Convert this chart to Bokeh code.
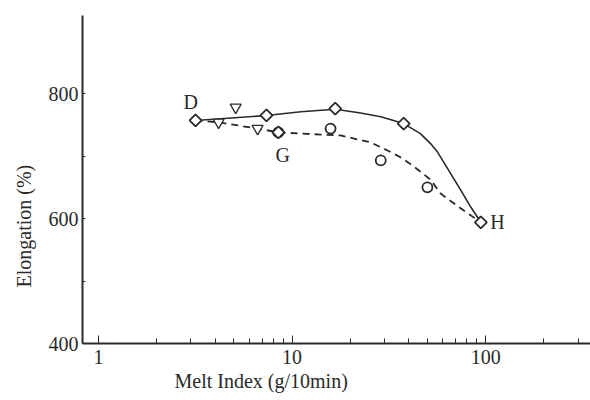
import math
from bokeh.plotting import figure
from bokeh.models import Range1d, FixedTicker, PrintfTickFormatter, Label, Title
from bokeh.embed import file_html
from bokeh.resources import INLINE

# Curves (Melt Index, Elongation %)
solid_curve_x = [3.17, 7.37, 11.1, 16.7, 22.6, 28.7, 37.7, 46.0, 51.9, 56.5, 74.5, 83.9, 94.4]
solid_curve_y = [757, 765, 771, 775, 769, 763, 752, 736, 720, 706, 645, 618, 594]
dashed_curve_x = [3.17, 4.17, 6.63, 8.49, 11.1, 17.8, 25.4, 31.1, 36.3, 41.9, 52.0, 58.5, 74.5, 94.4]
dashed_curve_y = [757, 754, 744, 738, 736, 733, 722, 709, 698, 685, 662, 640, 616, 594]

# Markers
diamond_x = [3.17, 7.37, 16.7, 37.7, 94.4, 8.49]
diamond_y = [757, 765, 776, 752, 594, 738]
circle_x = [8.49, 15.8, 28.7, 50.0]
circle_y = [738, 744, 693, 650]
triangle_x = [4.17, 5.11, 6.63]
triangle_y = [754, 778, 744]

point_names = ["D", "G", "H"]
name_x = [2.99, 8.93, 115]
name_y = [786, 702, 594]

x_major = [1, 10, 100]
x_minor = [2, 3, 4, 5, 6, 7, 8, 9, 20, 30, 40, 50, 60, 70, 80, 90, 200, 300]
y_major = [400, 600, 800]
y_minor = [500, 700]

INK = "#2a2a2a"
SERIF = "Liberation Serif"

p = figure(width=590, height=400, x_axis_type="log",
           x_range=Range1d(0.826, 348), y_range=Range1d(400, 925),
           output_backend="svg", toolbar_location=None,
           min_border_left=82, min_border_right=0,
           min_border_top=15, min_border_bottom=57)
p.outline_line_color = None
p.xgrid.visible = False
p.ygrid.visible = False
p.background_fill_color = "white"
p.border_fill_color = "white"

for ax in (p.xaxis[0], p.yaxis[0]):
    ax.axis_line_color = INK
    ax.axis_line_width = 2
    ax.major_tick_line_color = INK
    ax.minor_tick_line_color = INK
    ax.major_tick_out = 0
    ax.minor_tick_out = 0
    ax.major_label_text_font = SERIF
    ax.major_label_text_font_size = "20px"
    ax.major_label_text_color = INK

p.xaxis[0].ticker = FixedTicker(ticks=x_major, minor_ticks=x_minor)
p.xaxis[0].formatter = PrintfTickFormatter(format="%d")
p.xaxis[0].major_tick_in = 8
p.xaxis[0].minor_tick_in = 5
p.xaxis[0].major_label_standoff = 6

p.yaxis[0].ticker = FixedTicker(ticks=y_major, minor_ticks=y_minor)
p.yaxis[0].major_tick_in = 3
p.yaxis[0].minor_tick_in = 3
p.yaxis[0].major_label_standoff = 4

p.line(solid_curve_x, solid_curve_y, line_color=INK, line_width=1.6)
p.line(dashed_curve_x, dashed_curve_y, line_color=INK, line_width=1.8, line_dash="7 5")

p.scatter(circle_x, circle_y, marker="circle", size=10, fill_color="white",
          line_color=INK, line_width=1.8)
p.scatter(diamond_x, diamond_y, marker="square", angle=math.pi / 4, size=8.5,
          fill_color="white", line_color=INK, line_width=1.8)
p.scatter(triangle_x, triangle_y, marker="inverted_triangle", size=11,
          fill_color="white", line_color=INK, line_width=1.3)

for n, x, y in zip(point_names, name_x, name_y):
    p.add_layout(Label(x=x, y=y, text=n, text_font=SERIF, text_font_size="20px",
                       text_color=INK, text_align="center", text_baseline="middle"))

# axis titles, placed off-centre as in the reference
p.add_layout(Title(text="Melt Index (g/10min)", align="left", offset=92,
                   vertical_align="middle", standoff=4,
                   text_font=SERIF, text_font_size="20px", text_font_style="normal",
                   text_color=INK), "below")
p.add_layout(Title(text="Elongation  (%)", align="left", offset=56,
                   vertical_align="middle", standoff=20,
                   text_font=SERIF, text_font_size="20px", text_font_style="normal",
                   text_color=INK), "left")

open("out.html", "w").write(file_html(p, INLINE))
